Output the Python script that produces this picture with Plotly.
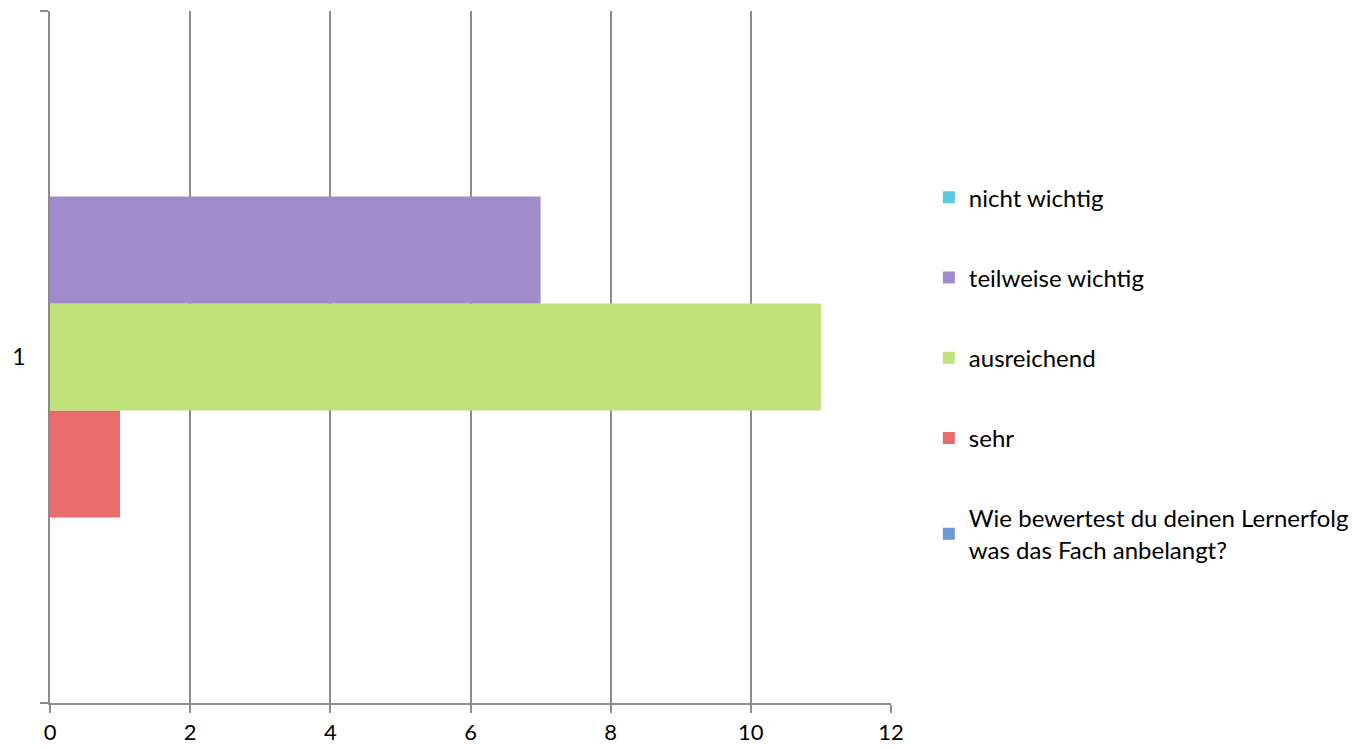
import plotly.graph_objects as go

categories = ["1"]
series_names = [
    "Wie bewertest du deinen Lernerfolg<br>was das Fach anbelangt?",
    "sehr",
    "ausreichend",
    "teilweise wichtig",
    "nicht wichtig",
]
series_values = [
    [0],
    [1],
    [11],
    [7],
    [0],
]
series_colors = ["#6F9AD8", "#E86C69", "#BFE27A", "#A28BCB", "#5CC8E0"]
x_ticks = [0, 2, 4, 6, 8, 10, 12]

fig = go.Figure()
for i, (name, vals, col) in enumerate(zip(series_names, series_values, series_colors)):
    fig.add_trace(go.Bar(
        y=categories, x=vals, name=name, orientation="h",
        marker=dict(color=col, line=dict(width=0)),
        legendgroup=f"g{i}", legendrank=1000 - i,
    ))

fig.update_layout(
    width=1358, height=741,
    margin=dict(l=42, r=475, t=3, b=46),
    paper_bgcolor="white", plot_bgcolor="white",
    barmode="group", bargap=0.227, bargroupgap=0,
    font=dict(family="Lato, Open Sans, sans-serif", size=23, color="#000"),
    showlegend=True,
    legend=dict(
        x=1.045, xanchor="left", y=0.7627, yanchor="top",
        traceorder="grouped", tracegroupgap=46,
        font=dict(size=24), itemwidth=30,
        bgcolor="rgba(0,0,0,0)",
    ),
    xaxis=dict(
        range=[0, 12], tickvals=x_ticks, ticktext=[str(t) for t in x_ticks],
        showgrid=True, gridcolor="#8C8C8C", gridwidth=1.5,
        showline=True, linecolor="#8C8C8C", linewidth=1.5,
        ticks="outside", ticklen=8, tickcolor="#8C8C8C", tickwidth=1.5,
        ticklabelstandoff=1,
        zeroline=False, fixedrange=True, automargin=False,
        tickfont=dict(size=22),
    ),
    yaxis=dict(
        type="category", range=[-0.5, 0.5],
        showgrid=False, showline=True, linecolor="#8C8C8C", linewidth=1.5,
        ticks="outside", ticklen=8, tickcolor="#8C8C8C", tickwidth=1.5,
        tickson="boundaries", ticklabelstandoff=18, automargin=False,
        tickfont=dict(size=23), zeroline=False,
    ),
)

fig.write_html("out.html")
